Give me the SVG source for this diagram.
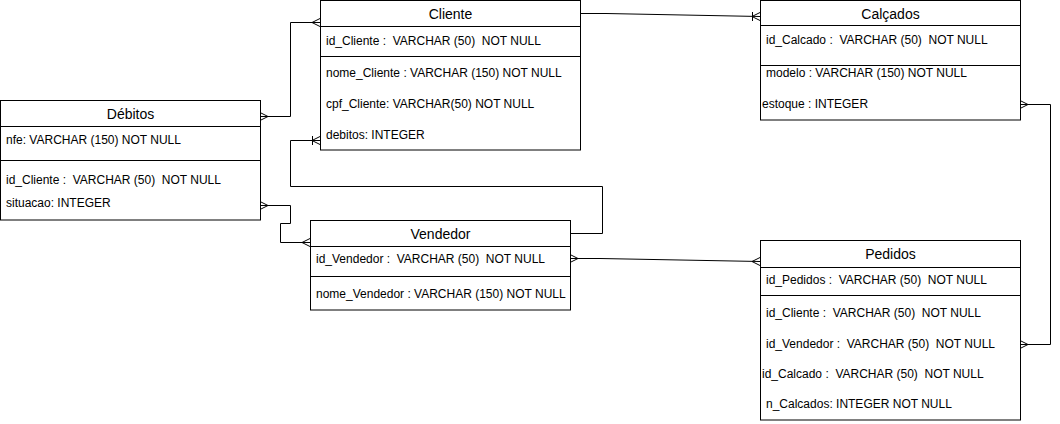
<svg xmlns="http://www.w3.org/2000/svg" width="1060" height="424" viewBox="0 0 1060 424">
<style>
.box{fill:#fff;stroke:#000;stroke-width:1}
.sep{stroke:#000;stroke-width:1;fill:none}
.t{font-family:"Liberation Sans",Arial,sans-serif;font-size:14px;fill:#000;text-anchor:middle}
.f{font-family:"Liberation Sans",Arial,sans-serif;font-size:12px;fill:#000;white-space:pre}
.c{fill:none;stroke:#000;stroke-width:1}
</style>
<rect width="1060" height="424" fill="#fff"/>
<g id="connectors">
  <path class="c" d="M260,116.5 H290.5 V22.5 H320"/>
  <path class="c" d="M260,112.5 L268,116.5 L260,120.5 M312,22.5 L320,18.5 M312,22.5 L320,26.5"/>
  <path class="c" d="M580,13.5 H606 L760,16.5"/>
  <path class="c" d="M752.5,12 V21 M752,16.5 L760,12.5 M752,16.5 L760,20.5"/>
  <path class="c" d="M1020,104.5 H1050.5 V344.5 H1020"/>
  <path class="c" d="M1020,100.5 L1028,104.5 L1020,108.5 M1020,340.5 L1028,344.5 L1020,348.5"/>
  <path class="c" d="M570,233.5 H602.5 V186.5 H290.5 V140.5 H320"/>
  <path class="c" d="M312.5,136 V145 M312,140.5 L320,136.5 M312,140.5 L320,144.5"/>
  <path class="c" d="M260,205.5 H290.5 V223.5 H280.5 V242.5 H310"/>
  <path class="c" d="M260,201.5 L268,205.5 L260,209.5 M302,242.5 L310,238.5 M302,242.5 L310,246.5"/>
  <path class="c" d="M570,258.5 H600 L760,261.5"/>
  <path class="c" d="M570,254.5 L578,258.5 L570,262.5 M752,261.5 L760,257.5 M752,261.5 L760,265.5"/>
</g>
<g id="cliente">
  <rect class="box" x="320.5" y="0.5" width="260" height="149.5"/>
  <path class="sep" d="M320.5,26.5 H580.5 M320.5,56.5 H580.5"/>
  <text class="t" x="450.5" y="18.5">Cliente</text>
  <text class="f" x="326" y="45">id_Cliente :  VARCHAR (50)  NOT NULL</text>
  <text class="f" x="326" y="77">nome_Cliente : VARCHAR (150) NOT NULL</text>
  <text class="f" x="326" y="108">cpf_Cliente: VARCHAR(50) NOT NULL</text>
  <text class="f" x="326" y="139">debitos: INTEGER</text>
</g>
<g id="calcados">
  <rect class="box" x="760.5" y="0.5" width="260" height="119.5"/>
  <path class="sep" d="M760.5,25.5 H1020.5 M760.5,65.5 H1020.5"/>
  <text class="t" x="890.5" y="19">Calçados</text>
  <text class="f" x="766" y="44">id_Calcado :  VARCHAR (50)  NOT NULL</text>
  <text class="f" x="766" y="77">modelo : VARCHAR (150) NOT NULL</text>
  <text class="f" x="762" y="108">estoque : INTEGER</text>
</g>
<g id="debitos">
  <rect class="box" x="0.5" y="100.5" width="260" height="119.5"/>
  <path class="sep" d="M0.5,126.5 H260.5 M0.5,160.5 H260.5"/>
  <text class="t" x="130.5" y="119">Débitos</text>
  <text class="f" x="6" y="144">nfe: VARCHAR (150) NOT NULL</text>
  <text class="f" x="6" y="184">id_Cliente :  VARCHAR (50)  NOT NULL</text>
  <text class="f" x="6" y="207">situacao: INTEGER</text>
</g>
<g id="vendedor">
  <rect class="box" x="310.5" y="220.5" width="260" height="89.5"/>
  <path class="sep" d="M310.5,246.5 H570.5 M310.5,276.5 H570.5"/>
  <text class="t" x="440.5" y="239">Vendedor</text>
  <text class="f" x="316" y="263">id_Vendedor :  VARCHAR (50)  NOT NULL</text>
  <text class="f" x="316" y="298">nome_Vendedor : VARCHAR (150) NOT NULL</text>
</g>
<g id="pedidos">
  <rect class="box" x="760.5" y="240.5" width="260" height="179.5"/>
  <path class="sep" d="M760.5,267.5 H1020.5 M760.5,295.5 H1020.5"/>
  <text class="t" x="890.5" y="259">Pedidos</text>
  <text class="f" x="766" y="284">id_Pedidos :  VARCHAR (50)  NOT NULL</text>
  <text class="f" x="766" y="317">id_Cliente :  VARCHAR (50)  NOT NULL</text>
  <text class="f" x="766" y="348">id_Vendedor :  VARCHAR (50)  NOT NULL</text>
  <text class="f" x="762" y="378">id_Calcado :  VARCHAR (50)  NOT NULL</text>
  <text class="f" x="766" y="408">n_Calcados: INTEGER NOT NULL</text>
</g>
</svg>
